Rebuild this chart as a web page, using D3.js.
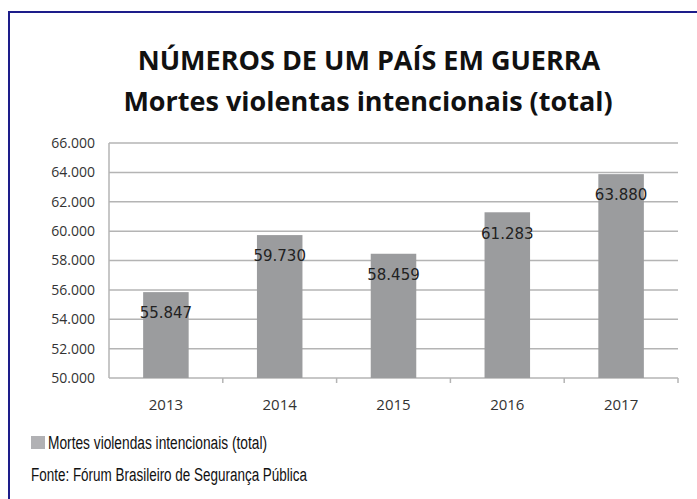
<!DOCTYPE html>
<html lang="pt">
<head>
<meta charset="utf-8">
<title>Mortes violentas intencionais</title>
<script src="https://d3js.org/d3.v7.min.js"></script>
<style>
  body { margin: 0; background: #fff; }
  svg { display: block; }
</style>
</head>
<body>
<script>
// data
var years = ["2013", "2014", "2015", "2016", "2017"];
var deaths = [55847, 59730, 58459, 61283, 63880];
var yTicks = [50000, 52000, 54000, 56000, 58000, 60000, 62000, 64000, 66000];

var w = 697, h = 499;
var plotLeft = 109, plotRight = 678, plotTop = 143, plotBottom = 378;

var svg = d3.select("body").append("svg")
  .attr("width", w)
  .attr("height", h);

svg.append("rect").attr("width", w).attr("height", h).attr("fill", "#fff");

// frame
svg.append("path")
  .attr("d", "M9,499 V12 H697")
  .attr("fill", "none")
  .attr("stroke", "#1d1d8a")
  .attr("stroke-width", 2);

// titles
svg.append("text")
  .attr("x", 369).attr("y", 70)
  .attr("text-anchor", "middle")
  .style("font-family", "'Open Sans', sans-serif")
  .style("font-weight", "bold")
  .style("font-size", "27px")
  .attr("fill", "#111")
  .text("NÚMEROS DE UM PAÍS EM GUERRA");

svg.append("text")
  .attr("x", 368).attr("y", 111)
  .attr("text-anchor", "middle")
  .style("font-family", "'Open Sans', sans-serif")
  .style("font-weight", "bold")
  .style("font-size", "27px")
  .attr("fill", "#111")
  .text("Mortes violentas intencionais (total)");

var x = d3.scaleBand()
  .domain(years)
  .range([plotLeft, plotRight])
  .paddingInner(0.6)
  .paddingOuter(0.3);

var y = d3.scaleLinear()
  .domain([50000, 66000])
  .range([plotBottom, plotTop]);

var fmt = function(d) { return d3.format(",")(d).replace(/,/g, "."); };

// gridlines
svg.append("g")
  .selectAll("line")
  .data(yTicks)
  .join("line")
  .attr("x1", plotLeft).attr("x2", plotRight)
  .attr("y1", function(d) { return y(d); })
  .attr("y2", function(d) { return y(d); })
  .attr("stroke", "#b4b4b4")
  .attr("stroke-width", 1.5);

// y axis labels
svg.append("g")
  .selectAll("text")
  .data(yTicks)
  .join("text")
  .attr("x", plotLeft - 14)
  .attr("y", function(d) { return y(d); })
  .attr("dy", "0.35em")
  .attr("text-anchor", "end")
  .style("font-family", "'Open Sans', sans-serif")
  .style("font-size", "14px")
  .attr("fill", "#333")
  .text(fmt);

// y axis line
svg.append("line")
  .attr("x1", plotLeft).attr("x2", plotLeft)
  .attr("y1", plotTop).attr("y2", plotBottom)
  .attr("stroke", "#b4b4b4")
  .attr("stroke-width", 1.5);

// x tick marks at category boundaries
var step = x.step();
svg.append("g")
  .selectAll("line")
  .data(years)
  .join("line")
  .attr("x1", function(d) { return x(d) - x.paddingOuter() * step + step; })
  .attr("x2", function(d) { return x(d) - x.paddingOuter() * step + step; })
  .attr("y1", plotBottom).attr("y2", plotBottom + 5)
  .attr("stroke", "#b4b4b4")
  .attr("stroke-width", 1.5);

// bars
svg.append("g")
  .selectAll("rect")
  .data(deaths)
  .join("rect")
  .attr("x", function(d, i) { return x(years[i]); })
  .attr("y", function(d) { return y(d); })
  .attr("width", x.bandwidth())
  .attr("height", function(d) { return plotBottom - y(d); })
  .attr("fill", "#9b9c9e");

// value labels
svg.append("g")
  .selectAll("text")
  .data(deaths)
  .join("text")
  .attr("x", function(d, i) { return x(years[i]) + x.bandwidth() / 2; })
  .attr("y", function(d) { return y(d) + 21; })
  .attr("dy", "0.35em")
  .attr("text-anchor", "middle")
  .style("font-family", "'DejaVu Sans', sans-serif")
  .style("font-size", "15px")
  .attr("fill", "#222")
  .text(fmt);

// x labels
svg.append("g")
  .selectAll("text")
  .data(years)
  .join("text")
  .attr("x", function(d) { return x(d) + x.bandwidth() / 2; })
  .attr("y", 405)
  .attr("dy", "0.35em")
  .attr("text-anchor", "middle")
  .style("font-family", "'Open Sans', sans-serif")
  .style("font-size", "15px")
  .attr("fill", "#333")
  .text(function(d) { return d; });

// legend
svg.append("rect")
  .attr("x", 31).attr("y", 436)
  .attr("width", 14).attr("height", 13)
  .attr("fill", "#b1b1b4");

svg.append("text")
  .attr("x", 48).attr("y", 443)
  .attr("dy", "0.35em")
  .attr("textLength", 219)
  .attr("lengthAdjust", "spacingAndGlyphs")
  .style("font-family", "'Liberation Sans', sans-serif")
  .style("font-size", "18px")
  .attr("fill", "#111")
  .text("Mortes violendas intencionais (total)");

svg.append("text")
  .attr("x", 31).attr("y", 475)
  .attr("dy", "0.35em")
  .attr("textLength", 276)
  .attr("lengthAdjust", "spacingAndGlyphs")
  .style("font-family", "'Liberation Sans', sans-serif")
  .style("font-size", "18px")
  .attr("fill", "#111")
  .text("Fonte: Fórum Brasileiro de Segurança Pública");
</script>
</body>
</html>
